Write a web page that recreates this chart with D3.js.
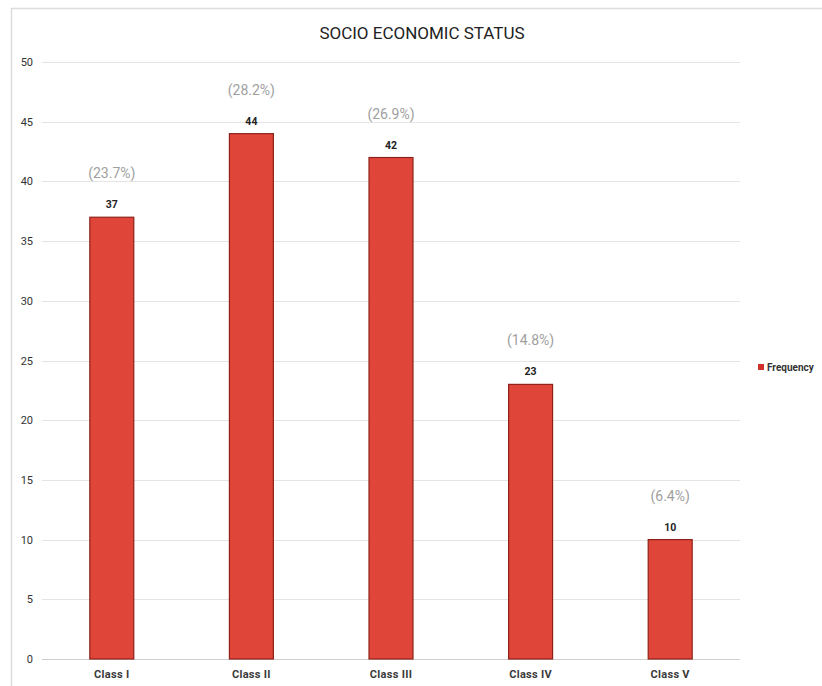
<html><head>
<meta charset="utf-8">
<script src="https://d3js.org/d3.v7.min.js"></script>
<style>
  body { margin: 0; background: #fff; }
  svg { font-family: Roboto, "Noto Sans", sans-serif; }
  .tick-y { font-size: 11px; fill: #333; }
  .tick-x { font-size: 11px; fill: #3a3a3a; font-weight: bold; letter-spacing: 0.3px; }
  .val { font-size: 10.5px; fill: #222; font-weight: bold; text-anchor: middle; }
  .pct { font-size: 14px; fill: #a0a0a0; text-anchor: middle; }
</style>
</head><body>
<script>
// chart data
var categories = ["Class I", "Class II", "Class III", "Class IV", "Class V"];
var frequency = [37, 44, 42, 23, 10];
var percentLabels = ["(23.7%)", "(28.2%)", "(26.9%)", "(14.8%)", "(6.4%)"];
var yTicks = [0, 5, 10, 15, 20, 25, 30, 35, 40, 45, 50];
var seriesName = "Frequency";
var title = "SOCIO ECONOMIC STATUS";

var W = 822, H = 686;
var svg = d3.select("body").append("svg").attr("width", W).attr("height", H);

// frame
svg.append("path")
  .attr("d", "M11.5," + H + "V8.5H" + W)
  .attr("fill", "none").attr("stroke", "#dcdcdc").attr("stroke-width", 1.5);

var x = d3.scaleBand().domain(categories).range([42, 740]).padding(0);
var y = d3.scaleLinear().domain([0, 50]).range([659, 62]);

// gridlines
svg.selectAll(".grid").data(yTicks).enter().append("line")
  .attr("x1", 42).attr("x2", 740)
  .attr("y1", function(d) { return Math.round(y(d)) + 0.5; })
  .attr("y2", function(d) { return Math.round(y(d)) + 0.5; })
  .attr("stroke", function(d) { return d === 0 ? "#cfcfcf" : "#e4e4e4"; })
  .attr("stroke-width", 1.2);

svg.selectAll(".tick-y").data(yTicks).enter().append("text")
  .attr("class", "tick-y")
  .attr("x", 33).attr("y", function(d) { return y(d) + 4; })
  .attr("text-anchor", "end")
  .text(function(d) { return d; });

var barW = x.step() * 0.315;

svg.selectAll(".bar").data(frequency).enter().append("rect")
  .attr("x", function(d, i) { return x(categories[i]) + x.bandwidth() / 2 - barW / 2; })
  .attr("y", function(d) { return y(d); })
  .attr("width", barW)
  .attr("height", function(d) { return y(0) - y(d); })
  .attr("fill", "#e0453a")
  .attr("stroke", "#8e2219").attr("stroke-width", 1.2);

svg.selectAll(".val").data(frequency).enter().append("text")
  .attr("class", "val")
  .attr("x", function(d, i) { return x(categories[i]) + x.bandwidth() / 2; })
  .attr("y", function(d) { return y(d) - 9; })
  .text(function(d) { return d; });

svg.selectAll(".pct").data(percentLabels).enter().append("text")
  .attr("class", "pct")
  .attr("x", function(d, i) { return x(categories[i]) + x.bandwidth() / 2; })
  .attr("y", function(d, i) { return y(frequency[i]) - 39; })
  .text(function(d) { return d; });

svg.selectAll(".tick-x").data(categories).enter().append("text")
  .attr("class", "tick-x")
  .attr("x", function(d) { return x(d) + x.bandwidth() / 2; })
  .attr("y", 678)
  .attr("text-anchor", "middle")
  .text(function(d) { return d; });

svg.append("text")
  .attr("x", 422).attr("y", 39)
  .attr("text-anchor", "middle")
  .attr("font-size", 17).attr("fill", "#222")
  .text(title);

// legend
svg.append("rect").attr("x", 758).attr("y", 364).attr("width", 6).attr("height", 6)
  .attr("fill", "#d0322a");
svg.append("text").attr("x", 767).attr("y", 371)
  .attr("font-size", 10).attr("font-weight", "bold").attr("fill", "#333")
  .text(seriesName);
</script>
</body></html>
